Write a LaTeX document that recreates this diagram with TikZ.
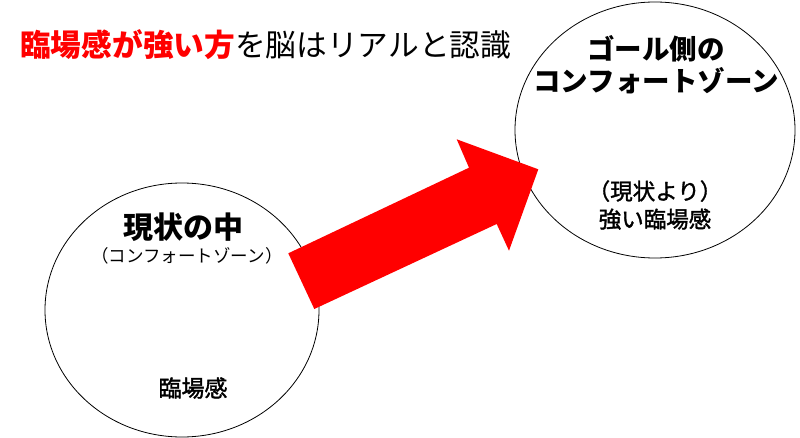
\documentclass[tikz,border=0pt]{standalone}
\usepackage{fontspec}
\setmainfont{Noto Sans CJK JP}
\newfontfamily\cjk{Noto Sans CJK JP}
\newfontfamily\cjkmed[FakeBold=1.5]{Noto Sans CJK JP}
\usetikzlibrary{shapes.geometric}
\definecolor{pred}{RGB}{255,0,0}
\tikzset{
  zone/.style={draw=black, line width=0.8pt, ellipse, inner sep=0pt},
  txt/.style={inner sep=0pt, align=center, text=black},
}
\begin{document}
\begin{tikzpicture}[x=1pt,y=-1pt]
\useasboundingbox (0,0) rectangle (800,438);
\fill[white] (0,0) rectangle (800,438);
% circles
\node[zone, minimum width=274pt, minimum height=254pt] (left) at (182,310) {};
\node[zone, minimum width=280pt, minimum height=256pt] (right) at (655,130) {};
% arrow
\fill[pred] (288.3,253.3) -- (314.3,309) -- (496.7,224) -- (509,250.7) -- (538.3,169.3) -- (456.7,139.3) -- (469,167.7) -- cycle;
% title
\node[txt, anchor=west, font={\cjk\fontsize{30.7}{34}\selectfont}] (title) at (20,45) {{\bfseries\color{pred}臨場感が強い方}を脳はリアルと認識};
% left texts
\node[txt, font={\cjk\fontsize{30}{34}\selectfont\bfseries}] (lt1) at (183,227) {現状の中};
\node[txt, font={\cjk\fontsize{17.5}{20}\selectfont}] (lt2) at (187,256) {（コンフォートゾーン）};
\node[txt, font={\cjkmed\fontsize{23}{26}\selectfont}] (lt3) at (193,388) {臨場感};
% right texts
\node[txt, font={\cjk\fontsize{27.5}{32}\selectfont\bfseries}] (rt1) at (656,65) {ゴール側の\\コンフォートゾーン};
\node[txt, font={\cjkmed\fontsize{22.5}{28}\selectfont}] (rt2) at (655,205) {（現状より）\\強い臨場感};
\end{tikzpicture}
\end{document}
